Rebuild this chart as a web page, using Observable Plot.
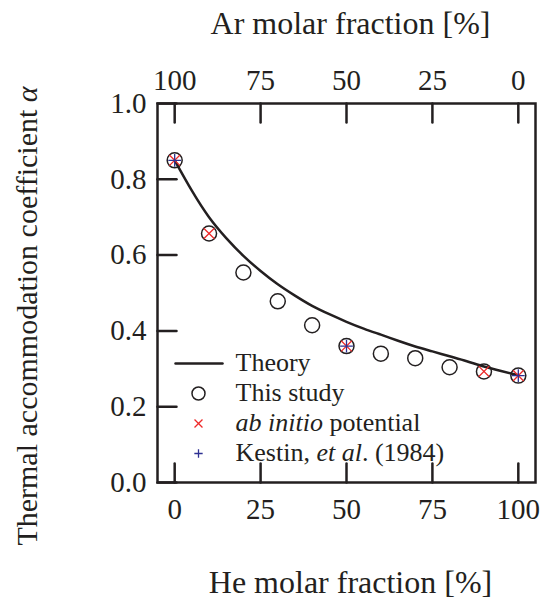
<!DOCTYPE html>
<html><head><meta charset="utf-8">
<script src="https://cdn.jsdelivr.net/npm/d3@7"></script>
<script src="https://cdn.jsdelivr.net/npm/@observablehq/plot@0.6"></script>
<style>html,body{margin:0;padding:0;background:#fff} svg{display:block}</style>
</head><body><div id="chart"></div>
<script>
// He molar fraction [%] for the measured points
const heFraction = [0, 10, 20, 30, 40, 50, 60, 70, 80, 90, 100];
const thisStudy = [0.850, 0.657, 0.554, 0.478, 0.415, 0.360, 0.340, 0.328, 0.304, 0.293, 0.282];
const abInitioX = [0, 10, 50, 90, 100];
const abInitioY = [0.850, 0.657, 0.360, 0.293, 0.282];
const kestinX = [0, 50, 100];
const kestinY = [0.850, 0.360, 0.282];
const theoryX = [0, 5, 10, 15, 20, 25, 30, 35, 40, 45, 50, 55, 60, 65, 70, 75, 80, 85, 90, 95, 100];
const theoryY = [0.850, 0.770, 0.700, 0.645, 0.598, 0.558, 0.523, 0.493, 0.466, 0.444, 0.424, 0.406, 0.390, 0.374, 0.359, 0.346, 0.333, 0.320, 0.306, 0.294, 0.283];
const xTicks = [0, 25, 50, 75, 100];
const yTicks = [0, 0.2, 0.4, 0.6, 0.8, 1.0];
const legendLabels = ["Theory", "This study", "<i>ab initio</i> potential", "Kestin, <i>et al</i>. (1984)"];
const xTitle = "He molar fraction [%]";
const x2Title = "Ar molar fraction [%]";
const yTitle = "Thermal accommodation coefficient <i>α</i>";

const ink = "#231f20";
const red = "#ee2a2a";
const blue = "#2e3192";
const font = "'Liberation Serif', 'Times New Roman', serif";

const theory = theoryX.map((x, i) => ({x, y: theoryY[i]}));
const study = heFraction.map((x, i) => ({x, y: thisStudy[i]}));
const abInitio = abInitioX.map((x, i) => ({x, y: abInitioY[i]}));
const kestin = kestinX.map((x, i) => ({x, y: kestinY[i]}));

const lineShape = {draw(context, l) { context.moveTo(0, 0); context.lineTo(0, -l); }};
const tickLen = 19;

const legendMarks = [];
legendLabels.forEach((label, i) => {
  const dy = 260 + 30 * i;
  legendMarks.push(Plot.text([label], {text: d => d, frameAnchor: "top-left", dx: 78, dy: dy - 1, textAnchor: "start", lineAnchor: "middle", fontSize: 26, fill: ink}));
});
legendMarks.push(Plot.vector([0], {frameAnchor: "top-left", dx: 18, dy: 260, length: 47, rotate: 90, anchor: "start", shape: lineShape, stroke: ink, strokeWidth: 2.5}));
legendMarks.push(Plot.dot([0], {frameAnchor: "top-left", dx: 41, dy: 290, r: 6.5, stroke: ink, strokeWidth: 1.5, fill: "none"}));
legendMarks.push(Plot.dot([0], {frameAnchor: "top-left", dx: 41, dy: 320, r: 3.7, symbol: "times", stroke: red, strokeWidth: 1.3}));
legendMarks.push(Plot.dot([0], {frameAnchor: "top-left", dx: 41, dy: 350, r: 2.8, symbol: "plus", stroke: blue, strokeWidth: 1.3}));

const plot = Plot.plot({
  width: 542, height: 601,
  marginLeft: 157, marginRight: 7, marginTop: 103, marginBottom: 119,
  style: {fontFamily: font, color: ink, background: "#fff"},
  x: {domain: [-5, 105]},
  y: {domain: [0, 1]},
  marks: [
    Plot.line(theory, {x: "x", y: "y", curve: "natural", stroke: ink, strokeWidth: 2.5}),
    Plot.dot(study, {x: "x", y: "y", r: 7.5, stroke: ink, strokeWidth: 1.5, fill: "none"}),
    Plot.dot(abInitio, {x: "x", y: "y", r: 4.9, symbol: "times", stroke: red, strokeWidth: 1.3}),
    Plot.dot(kestin, {x: "x", y: "y", r: 4.2, symbol: "plus", stroke: blue, strokeWidth: 1.3}),
    Plot.vector(xTicks, {x: d => d, frameAnchor: "bottom", length: tickLen, rotate: 0, anchor: "start", shape: lineShape, stroke: ink, strokeWidth: 2.5}),
    Plot.vector(xTicks, {x: d => d, frameAnchor: "top", length: tickLen, rotate: 180, anchor: "start", shape: lineShape, stroke: ink, strokeWidth: 2.5}),
    Plot.vector(yTicks, {y: d => d, frameAnchor: "left", length: tickLen, rotate: 90, anchor: "start", shape: lineShape, stroke: ink, strokeWidth: 2.5}),
    Plot.axisX(xTicks, {anchor: "bottom", tickSize: 0, tickPadding: 16, fontSize: 29, label: null}),
    Plot.axisX(xTicks, {anchor: "top", tickSize: 0, tickPadding: 14, fontSize: 29, label: null, tickFormat: d => String(100 - d)}),
    Plot.axisY(yTicks, {anchor: "left", tickSize: 0, tickPadding: 11, fontSize: 29, label: null, tickFormat: d3.format(".1f")}),
    Plot.text([xTitle], {text: d => d, frameAnchor: "bottom", textAnchor: "middle", dx: 4, dy: 100, lineAnchor: "middle", fontSize: 32, fill: ink}),
    Plot.text([x2Title], {text: d => d, frameAnchor: "top", textAnchor: "middle", dx: 4, dy: -80, lineAnchor: "middle", fontSize: 32, fill: ink}),
    Plot.text([yTitle], {text: d => d, frameAnchor: "left", textAnchor: "middle", dx: -130, dy: 23, rotate: -90, lineAnchor: "middle", fontSize: 30, fill: ink}),
    ...legendMarks,
    Plot.frame({stroke: ink, strokeWidth: 2.5})
  ]
});

// Turn <i>…</i> markup into italic tspans
d3.select(plot).selectAll("text").each(function() {
  const t = this.textContent;
  if (!t.includes("<i>")) return;
  const el = d3.select(this);
  el.text(null);
  t.split(/(<i>.*?<\/i>)/).filter(s => s.length).forEach(part => {
    const m = part.match(/^<i>(.*)<\/i>$/);
    const ts = el.append("tspan").text(m ? m[1] : part);
    if (m) ts.attr("font-style", "italic");
  });
});

document.getElementById("chart").append(plot);
</script>
</body></html>
